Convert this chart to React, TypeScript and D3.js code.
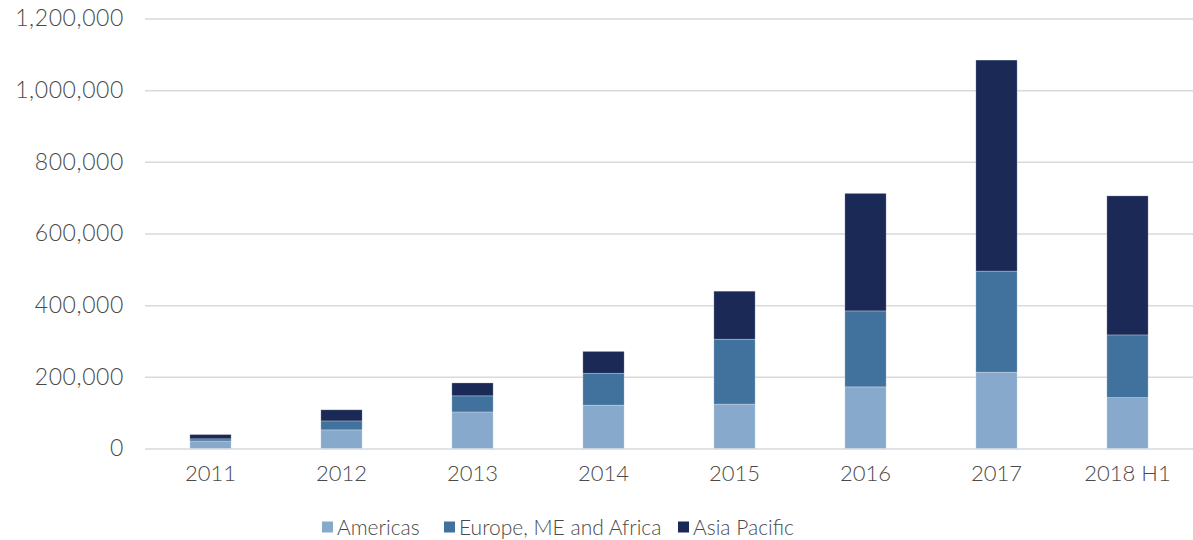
import * as d3 from "d3";
import { useEffect, useRef } from "react";

const categories = ["2011", "2012", "2013", "2014", "2015", "2016", "2017", "2018 H1"];
const seriesNames = ["Americas", "Europe, ME and Africa", "Asia Pacific"];
const americas = [21000, 52000, 102000, 121000, 124000, 172000, 213000, 142000];
const emea = [6000, 25000, 45000, 89000, 181000, 212000, 282000, 175000];
const asiaPacific = [12000, 31000, 36000, 61000, 134000, 328000, 589000, 388000];
const yTicks = [0, 200000, 400000, 600000, 800000, 1000000, 1200000];
const colors = ["#87a9cb", "#41729e", "#1a2956"];

const W = 1193;
const H = 540;
const FONT = "Lato, sans-serif";
const TEXT = "#4a4a4a";

const App = () => {
  const ref = useRef<SVGSVGElement>(null);

  useEffect(() => {
    const margin = { top: 18.5, right: 0, bottom: 91.5, left: 145 };
    const width = W - margin.left - margin.right;
    const height = H - margin.top - margin.bottom;

    const svg = d3.select(ref.current);
    svg.selectAll("*").remove();
    const g = svg.append("g").attr("transform", `translate(${margin.left},${margin.top})`);

    const rows = categories.map((c, i) => ({
      cat: c,
      a: americas[i],
      e: emea[i],
      p: asiaPacific[i],
    }));
    const stack = d3.stack<any>().keys(["a", "e", "p"])(rows);

    const x = d3.scaleBand().domain(categories).range([0, width]).paddingInner(0.685).paddingOuter(0.3425);
    const y = d3.scaleLinear().domain([0, 1200000]).range([height, 0]);

    // grid + y labels
    const yAxis = g
      .append("g")
      .call(
        d3
          .axisLeft(y)
          .tickValues(yTicks)
          .tickSize(-width)
          .tickPadding(21)
          .tickFormat((d) => d3.format(",")(d as number))
      );
    yAxis.select(".domain").remove();
    yAxis.selectAll(".tick line").attr("stroke", "#d9d9d9").attr("stroke-width", 1.5);
    yAxis
      .selectAll(".tick text")
      .attr("fill", TEXT)
      .style("font-family", FONT)
      .style("font-weight", 300)
      .style("letter-spacing", "0.6px")
      .style("font-size", "23px");

    // bars
    g.selectAll(".layer")
      .data(stack)
      .join("g")
      .attr("fill", (_, i) => colors[i])
      .selectAll("rect")
      .data((d) => d)
      .join("rect")
      .attr("x", (d) => x(d.data.cat)!)
      .attr("y", (d) => y(d[1]))
      .attr("width", x.bandwidth())
      .attr("height", (d) => y(d[0]) - y(d[1]))
      .attr("stroke", "#ffffff")
      .attr("stroke-opacity", 0.35)
      .attr("stroke-width", 0.75);

    // x labels
    const xAxis = g
      .append("g")
      .attr("transform", `translate(0,${height})`)
      .call(d3.axisBottom(x).tickSize(0).tickPadding(17));
    xAxis.select(".domain").remove();
    xAxis
      .selectAll(".tick text")
      .attr("fill", TEXT)
      .style("font-family", FONT)
      .style("font-weight", 300)
      .style("font-size", "22px");

    // legend
    const legendX = [322, 444, 678];
    const legend = svg
      .append("g")
      .selectAll("g")
      .data(seriesNames)
      .join("g")
      .attr("transform", (_, i) => `translate(${legendX[i]},521.5)`);
    legend
      .append("rect")
      .attr("width", 11)
      .attr("height", 11)
      .attr("fill", (_, i) => colors[i]);
    legend
      .append("text")
      .attr("x", 15)
      .attr("y", 6)
      .attr("dy", "0.35em")
      .attr("fill", TEXT)
      .style("font-family", FONT)
      .style("font-weight", 300)
      .style("font-size", "21px")
      .text((d) => d);
  }, []);

  return (
    <svg
      ref={ref}
      width={W}
      height={H}
      style={{ position: "absolute", left: 0, top: 0, background: "#fff" }}
    />
  );
};

export default App;
